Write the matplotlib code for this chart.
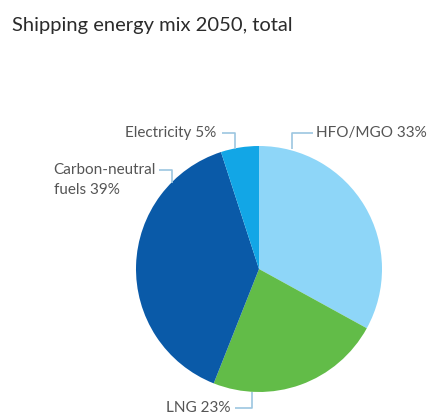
import matplotlib
matplotlib.use("Agg")
import matplotlib.pyplot as plt

labels = ["HFO/MGO", "LNG", "Carbon-neutral\nfuels", "Electricity"]
values = [33, 23, 39, 5]
colors = ["#8ed6f8", "#62bc48", "#0a5aa8", "#12a6e6"]

W, H = 441, 420
fig = plt.figure(figsize=(W / 100, H / 100), dpi=100)
ax = fig.add_axes([0, 0, 1, 1])

def Y(py):
    return H - py

cx, cy, r = 259, 269, 123
ax.pie(values, colors=colors, startangle=90, counterclock=False,
       center=(cx, Y(cy)), radius=r, frame=True,
       wedgeprops=dict(linewidth=0))
ax.set_xlim(0, W)
ax.set_ylim(0, H)
ax.axis("off")

fig.text(12 / W, 1 - 25 / H, "Shipping energy mix 2050, total",
         fontsize=14.5, color="#2b2b2b", family="Lato", va="center", ha="left")

lc = "#9cc6e0"
tc = "#555555"
fs = 11
fam = "Lato"

def leader(pts):
    xs = [p[0] for p in pts]
    ys = [Y(p[1]) for p in pts]
    ax.plot(xs, ys, color=lc, lw=1.2, solid_capstyle="butt")

# HFO/MGO
leader([(292, 149), (292, 133), (313, 133)])
ax.text(316, Y(133), f"{labels[0]} {values[0]}%", fontsize=fs, color=tc,
        family=fam, va="center", ha="left")
# Electricity
leader([(222, 133), (235, 133), (235, 149)])
ax.text(216, Y(133), f"{labels[3]} {values[3]}%", fontsize=fs, color=tc,
        family=fam, va="center", ha="right")
# Carbon-neutral
leader([(159, 170), (172, 170), (172, 183)])
t = ax.text(156, Y(170), "Carbon-neutral", fontsize=fs, color=tc,
            family=fam, va="center", ha="right")
fig.canvas.draw()
bb = t.get_window_extent()
x0 = ax.transData.inverted().transform((bb.x0, bb.y0))[0]
ax.text(x0, Y(190), f"fuels {values[2]}%", fontsize=fs, color=tc,
        family=fam, va="center", ha="left")
# LNG
leader([(235, 408), (252, 408), (252, 392)])
ax.text(230, Y(408), f"{labels[1]} {values[1]}%", fontsize=fs, color=tc,
        family=fam, va="center", ha="right")

fig.savefig("out.png", dpi=100)
